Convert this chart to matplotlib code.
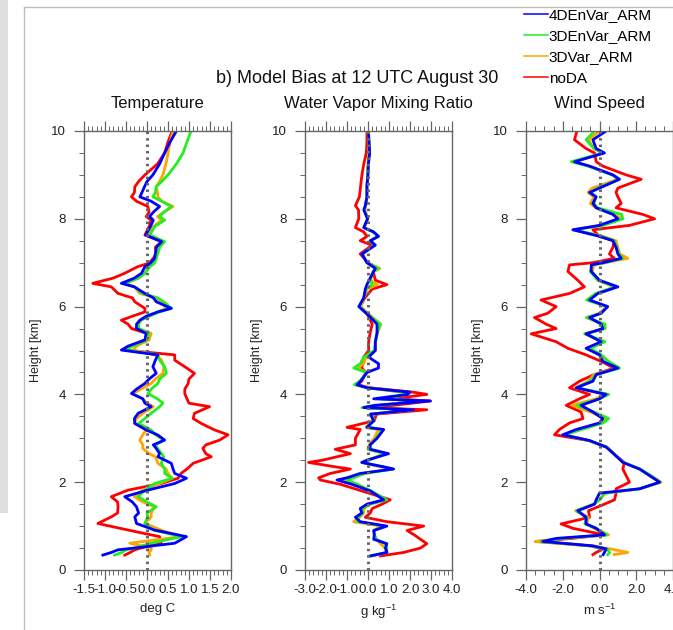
import matplotlib
matplotlib.use("Agg")
import matplotlib.pyplot as plt
from matplotlib.lines import Line2D
from matplotlib.patches import Rectangle
from matplotlib.ticker import MultipleLocator, FormatStrFormatter

plt.rcParams["font.family"] = ["Liberation Sans", "DejaVu Sans"]
plt.rcParams["mathtext.default"] = "regular"
plt.rcParams["axes.unicode_minus"] = False

W, H = 673, 630

run_labels = ["4DEnVar_ARM", "3DEnVar_ARM", "3DVar_ARM", "noDA"]
run_colors = {"4DEnVar_ARM": "#0000ff", "3DEnVar_ARM": "#22ee22",
              "3DVar_ARM": "#ffa500", "noDA": "#ff0000"}

# temperature bias profiles (deg C)
temp_height = [10.0, 9.75, 9.5, 9.25, 9.0, 8.85, 8.73, 8.6, 8.5, 8.4, 8.28, 8.15, 8.05, 7.97,
               7.82, 7.63, 7.48, 7.35, 7.21, 7.1, 6.99, 6.91, 6.76, 6.65, 6.53, 6.45, 6.3, 6.2,
               6.11, 5.96, 5.88, 5.78, 5.69, 5.6, 5.5, 5.39, 5.24, 5.1, 5.01, 4.9, 4.78, 4.63,
               4.48, 4.35, 4.25, 4.12, 4.02, 3.9, 3.8, 3.72, 3.57, 3.45, 3.34, 3.19, 3.08, 2.96,
               2.85, 2.77, 2.65, 2.58, 2.43, 2.3, 2.2, 2.09, 1.97, 1.82, 1.67, 1.55, 1.44, 1.3,
               1.21, 1.06, 0.91, 0.76, 0.61, 0.5, 0.46, 0.4, 0.34]
temp_noda = [0.60, 0.50, 0.42, 0.25, -0.05, -0.20, -0.29, -0.30, -0.37, -0.25, 0.02, 0.05, -0.02, 0.10,
             0.05, -0.05, 0.35, 0.20, 0.22, 0.15, 0.05, -0.22, -0.53, -0.80, -1.29, -0.85, -0.69, -0.35,
             -0.29, -0.05, -0.05, -0.35, -0.61, -0.45, -0.37, 0.00, -0.05, -0.40, -0.53, 0.66, 0.66, 0.90,
             1.13, 1.00, 0.98, 0.90, 0.90, 0.95, 1.00, 1.49, 1.13, 1.10, 1.29, 1.61, 1.93, 1.73,
             1.40, 1.33, 1.40, 1.53, 1.10, 0.95, 0.81, 0.74, 0.34, -0.45, -0.85, -0.70, -0.69, -0.70,
             -0.85, -1.17, -0.45, 0.30, 0.34, -0.15, -0.29, -0.40, -0.53]
temp_3dvar = [0.62, 0.55, 0.50, 0.45, 0.38, 0.30, 0.22, 0.25, 0.26, 0.35, 0.62, 0.40, 0.25, 0.35,
              0.15, 0.05, 0.36, 0.25, 0.22, 0.20, 0.15, 0.05, -0.05, -0.20, -0.50, -0.30, -0.17, 0.20,
              0.34, 0.46, 0.25, 0.05, -0.15, -0.20, -0.20, 0.10, 0.05, -0.25, -0.33, 0.20, 0.35, 0.40,
              0.38, 0.20, 0.10, -0.15, -0.33, -0.10, 0.00, 0.15, -0.10, -0.25, -0.30, -0.02, -0.10, -0.17,
              -0.10, -0.10, 0.05, 0.20, 0.26, 0.45, 0.50, 0.60, 0.30, -0.10, -0.30, -0.10, 0.18, 0.10,
              0.10, -0.05, 0.34, 0.80, -0.41, 0.10, 0.10, 0.05, 0.06]
temp_3denvar = [1.05, 0.95, 0.86, 0.70, 0.50, 0.35, 0.22, 0.20, 0.14, 0.35, 0.58, 0.40, 0.30, 0.42,
                0.18, 0.07, 0.42, 0.30, 0.26, 0.22, 0.18, 0.07, -0.05, -0.20, -0.55, -0.30, -0.12, 0.25,
                0.40, 0.58, 0.30, 0.05, -0.15, -0.20, -0.20, 0.05, 0.00, -0.35, -0.50, 0.26, 0.30, 0.42,
                0.46, 0.30, 0.26, 0.10, 0.02, 0.25, 0.38, 0.30, 0.10, -0.05, -0.20, 0.10, 0.20, 0.40,
                0.20, 0.25, 0.35, 0.40, 0.34, 0.42, 0.42, 0.60, 0.18, -0.05, -0.21, 0.00, 0.22, 0.00,
                0.02, -0.05, 0.15, 0.82, 0.10, -0.30, -0.50, -0.60, -0.77]
temp_4denvar = [0.70, 0.55, 0.42, 0.30, 0.14, 0.00, -0.06, -0.12, -0.17, 0.10, 0.30, 0.15, 0.06, 0.15,
                0.08, -0.03, 0.35, 0.22, 0.20, 0.18, 0.08, -0.05, -0.13, -0.30, -0.61, -0.30, -0.05, 0.15,
                0.22, 0.58, 0.26, -0.02, -0.17, -0.25, -0.25, -0.02, -0.05, -0.45, -0.61, 0.26, 0.20, 0.14,
                0.22, 0.05, -0.05, -0.25, -0.37, -0.10, -0.05, 0.10, -0.21, -0.30, -0.29, -0.02, 0.25, 0.42,
                0.15, 0.22, 0.30, 0.26, 0.58, 0.62, 0.66, 0.94, 0.66, 0.02, -0.53, -0.35, -0.25, -0.20,
                -0.29, -0.25, 0.18, 0.94, 0.66, -0.30, -0.69, -0.85, -1.05]

# water vapor mixing ratio bias profiles (g/kg)
qv_height = [10.0, 9.75, 9.5, 9.25, 9.0, 8.75, 8.5, 8.3, 8.2, 8.0, 7.8, 7.7, 7.6, 7.5, 7.4, 7.2,
             7.0, 6.87, 6.8, 6.6, 6.5, 6.4, 6.2, 6.0, 5.8, 5.6, 5.4, 5.2, 5.0, 4.85, 4.7, 4.6,
             4.5, 4.3, 4.22, 4.15, 4.05, 4.0, 3.9, 3.85, 3.75, 3.7, 3.65, 3.55, 3.4, 3.25, 3.2, 3.0,
             2.85, 2.75, 2.65, 2.5, 2.45, 2.35, 2.3, 2.2, 2.1, 2.05, 1.95, 1.8, 1.6, 1.5, 1.4, 1.3,
             1.2, 1.1, 1.0, 0.9, 0.8, 0.7, 0.6, 0.5, 0.4, 0.32]
qv_noda = [-0.05, -0.05, -0.08, -0.20, -0.29, -0.35, -0.41, -0.60, -0.45, -0.44, -0.60, -0.20, -0.05, -0.37, 0.19, -0.37,
           0.00, 0.50, 0.25, 0.35, 0.90, 0.20, -0.15, -0.37, 0.00, 0.20, 0.10, 0.03, 0.03, -0.20, -0.25, -0.30,
           -0.10, -0.30, -0.50, 0.11, 2.17, 2.80, 1.20, 2.97, 1.20, -0.10, 2.80, 0.40, 0.30, -1.00, -0.37, -0.60,
           -0.60, -1.56, -0.84, -2.19, -2.83, -1.56, -0.84, -1.79, -2.35, -2.27, -1.30, -0.29, 1.06, 0.67, 0.20, 0.11,
           -0.13, 0.90, 2.65, 1.86, 2.20, 2.50, 2.80, 2.50, 1.70, 0.59]
qv_3dvar = [0.00, 0.05, 0.05, 0.00, -0.02, -0.05, -0.05, -0.10, -0.15, 0.00, -0.20, 0.25, 0.45, 0.10, 0.30, -0.25,
            -0.05, 0.56, 0.25, 0.10, 0.45, -0.05, -0.20, -0.35, 0.10, 0.60, 0.45, 0.35, 0.35, -0.10, -0.20, -0.52,
            -0.05, -0.37, -0.60, 0.00, 1.60, 1.90, 0.60, 2.50, 0.50, -0.20, 2.00, 0.20, 0.20, -0.10, 0.50, 0.30,
            0.05, 0.00, 0.80, 0.00, -0.30, 0.60, 1.10, -0.20, -0.80, -1.20, -0.50, 0.10, 0.80, 0.10, -0.20, -0.20,
            -0.40, -0.68, 0.60, 0.30, 0.30, 0.40, 0.59, 0.80, 0.90, 0.20]
qv_3denvar = [0.00, 0.05, 0.05, 0.00, -0.02, -0.05, -0.06, -0.12, -0.18, -0.02, -0.20, 0.25, 0.50, 0.10, 0.30, -0.27,
              -0.05, 0.50, 0.25, 0.10, 0.20, -0.10, -0.20, -0.40, 0.05, 0.59, 0.43, 0.35, 0.30, -0.20, -0.37, -0.68,
              -0.05, -0.40, -0.65, 0.00, 1.70, 1.90, 0.60, 2.60, 0.40, -0.29, 2.10, 0.15, 0.30, -0.05, 0.70, 0.40,
              0.10, 0.00, 0.85, -0.05, -0.30, 0.70, 1.20, -0.15, -0.70, -1.00, -0.50, 0.15, 0.90, 0.10, -0.30, -0.25,
              -0.44, -0.50, 0.80, 0.30, 0.30, 0.40, 0.80, 0.90, 0.90, 0.10]
qv_4denvar = [0.02, 0.05, 0.08, 0.02, 0.00, -0.05, -0.05, -0.13, -0.20, -0.02, -0.20, 0.27, 0.50, 0.11, 0.35, -0.29,
              -0.05, 0.35, 0.27, 0.05, -0.05, -0.13, -0.20, -0.44, 0.03, 0.43, 0.43, 0.35, 0.35, 0.03, 0.50, 0.50,
              -0.05, -0.35, -0.52, -0.05, 2.00, 1.90, 0.27, 2.97, 0.30, -0.20, 2.17, 0.11, 0.27, -0.05, 0.75, 0.43,
              0.10, 0.11, 0.98, -0.05, -0.29, 0.75, 1.22, -0.37, -1.00, -1.48, -0.76, 0.11, 0.75, -0.05, -0.37, -0.29,
              -0.60, -0.37, 0.90, 0.27, 0.30, 0.27, 0.90, 0.83, 0.90, 0.11]

# wind speed bias profiles (m/s)
ws_height = [10.0, 9.8, 9.6, 9.5, 9.3, 9.2, 9.0, 8.9, 8.7, 8.6, 8.5, 8.35, 8.25, 8.1, 8.0, 7.85,
             7.75, 7.6, 7.5, 7.35, 7.2, 7.1, 7.0, 6.95, 6.8, 6.6, 6.45, 6.3, 6.15, 6.0, 5.85, 5.75,
             5.6, 5.5, 5.38, 5.2, 5.05, 4.9, 4.75, 4.6, 4.45, 4.3, 4.15, 4.0, 3.9, 3.75, 3.6, 3.45,
             3.35, 3.2, 3.08, 2.95, 2.8, 2.6, 2.45, 2.3, 2.15, 2.0, 1.85, 1.75, 1.6, 1.5, 1.35, 1.2,
             1.05, 0.95, 0.8, 0.72, 0.65, 0.55, 0.48, 0.4, 0.35]
ws_noda = [-1.23, -1.36, -0.73, -0.27, -0.18, 0.18, 1.45, 2.27, 1.00, 0.90, 1.00, 1.18, 0.90, 2.36, 3.00, 1.63,
           -0.36, 0.00, 0.80, 0.73, 0.54, 0.80, -0.36, -1.63, -1.72, -1.18, -0.82, -1.63, -3.18, -2.36, -2.81, -3.54,
           -2.90, -2.36, -3.72, -2.36, -1.72, -0.73, 0.10, 0.80, -0.30, -1.09, -1.63, -0.54, -1.09, -1.81, -1.00, -0.90,
           -1.63, -2.18, -2.45, -0.60, 0.40, 0.90, 1.36, 1.27, 1.45, 1.63, 0.90, 0.90, 0.82, 0.27, -0.60, -0.54,
           -2.09, -1.45, 0.27, -1.50, -3.45, -0.50, 0.20, -0.18, -0.36]
ws_3dvar = [0.00, -0.60, -0.30, 0.20, -1.40, -0.60, 0.70, 1.00, -0.40, -0.63, -0.30, -0.50, -0.20, 0.80, 1.20, 0.10,
            -1.40, 0.20, 0.90, 1.00, 1.10, 1.54, 0.30, -0.30, -0.40, -0.10, 0.80, -0.10, -0.60, 0.40, 0.00, -0.70,
            0.20, 0.30, -0.80, 0.10, -0.60, 0.00, 0.30, 1.00, -0.30, -0.60, -1.30, 0.30, -0.20, -1.50, -0.50, 0.30,
            0.10, -1.00, -1.90, -0.60, 0.40, 0.90, 1.30, 2.20, 2.80, 3.35, 2.20, 0.30, 0.00, -0.30, -1.30, -0.60,
            -0.70, -0.30, 0.50, -2.00, -3.50, -0.40, 0.60, 1.54, 0.80]
ws_3denvar = [-0.27, -0.73, -0.30, 0.20, -1.54, -0.60, 0.70, 1.05, -0.10, -0.50, -0.20, -0.30, -0.10, 1.20, 1.27, 0.20,
              -1.40, 0.10, 0.80, 0.95, 1.05, 1.27, 0.30, -0.40, -0.50, -0.10, 0.90, -0.20, -0.70, 0.40, 0.10, -0.70,
              0.30, 0.30, -0.80, 0.30, -0.50, 0.10, 0.50, 1.10, -0.20, -0.50, -1.20, 0.50, 0.00, -1.20, -0.30, 0.50,
              0.20, -1.00, -1.90, -0.60, 0.40, 0.90, 1.30, 2.20, 2.80, 3.30, 2.20, 0.30, 0.00, -0.30, -1.27, -0.70,
              -0.80, -0.20, 0.40, -2.00, -3.20, -0.50, 0.40, 0.55, 0.45]
ws_4denvar = [0.36, -0.36, -0.18, 0.27, -1.36, -0.54, 0.73, 1.09, 0.00, -0.54, -0.18, -0.36, -0.18, 0.73, 1.00, 0.00,
              -1.45, 0.00, 0.73, 0.90, 1.00, 1.18, 0.18, -0.45, -0.45, 0.00, 1.00, -0.09, -0.54, 0.45, 0.09, -0.54,
              0.09, 0.18, -0.73, 0.09, -0.73, 0.00, 0.18, 1.00, -0.18, -0.36, -1.27, 0.36, 0.00, -1.00, -0.36, 0.18,
              0.00, -1.27, -2.00, -0.54, 0.36, 0.90, 1.27, 2.18, 2.72, 3.27, 2.18, 0.00, -0.18, -0.27, -1.18, -0.73,
              -0.73, -0.18, 0.27, -2.36, -3.09, -0.36, 0.36, 0.27, 0.20]

panel_titles = ["Temperature", "Water Vapor Mixing Ratio", "Wind Speed"]
panel_xlabels = ["deg C", "g kg$^{-1}$", "m s$^{-1}$"]
panel_xlims = [(-1.5, 2.0), (-3.0, 4.0), (-4.0, 4.0)]
panel_major = [0.5, 1.0, 2.0]
panel_minor = [0.1, 0.2, 0.5]
panel_left_px = [84, 305, 526]

panels = [
    (temp_height, {"4DEnVar_ARM": temp_4denvar, "3DEnVar_ARM": temp_3denvar,
                   "3DVar_ARM": temp_3dvar, "noDA": temp_noda}),
    (qv_height, {"4DEnVar_ARM": qv_4denvar, "3DEnVar_ARM": qv_3denvar,
                 "3DVar_ARM": qv_3dvar, "noDA": qv_noda}),
    (ws_height, {"4DEnVar_ARM": ws_4denvar, "3DEnVar_ARM": ws_3denvar,
                 "3DVar_ARM": ws_3dvar, "noDA": ws_noda}),
]

axis_color = "#666666"

fig = plt.figure(figsize=(W / 100, H / 100), dpi=100)
fig.patch.set_facecolor("white")

# screenshot frame: grey strip on the left and a thin border
fig.add_artist(Rectangle((0, 1 - 513 / H), 8 / W, 513 / H, transform=fig.transFigure,
                         facecolor="#dedede", edgecolor="none"))
fig.add_artist(Line2D([24 / W, 24 / W], [0, 1 - 7 / H], transform=fig.transFigure,
                      color="#bdbdbd", lw=1.0))
fig.add_artist(Line2D([24 / W, 1], [1 - 7 / H, 1 - 7 / H], transform=fig.transFigure,
                      color="#bdbdbd", lw=1.0))

for i, (heights, series) in enumerate(panels):
    ax = fig.add_axes([panel_left_px[i] / W, 60 / H, 147 / W, 439 / H])
    # noDA first so the assimilation runs sit on top, 4DEnVar last
    for name in ["noDA", "3DVar_ARM", "3DEnVar_ARM", "4DEnVar_ARM"]:
        ax.plot(series[name], heights, color=run_colors[name], lw=2.0, solid_joinstyle="round")
    ax.plot([0, 0], [0, 10], color="#666666", lw=2.2, linestyle=(0, (0.8, 1.3)))

    ax.set_xlim(*panel_xlims[i])
    ax.set_ylim(0, 10)
    ax.xaxis.set_major_locator(MultipleLocator(panel_major[i]))
    ax.xaxis.set_minor_locator(MultipleLocator(panel_minor[i]))
    ax.xaxis.set_major_formatter(FormatStrFormatter("%.1f"))
    ax.yaxis.set_major_locator(MultipleLocator(2))
    ax.yaxis.set_minor_locator(MultipleLocator(0.5))
    ax.tick_params(axis="x", which="both", direction="out", top=True, bottom=True,
                   colors=axis_color, labelcolor="#222222", labelsize=9.5, pad=3)
    ax.tick_params(axis="y", which="both", direction="out", left=True, right=False,
                   colors=axis_color, labelcolor="#222222", labelsize=9.5, pad=6)
    ax.tick_params(which="major", length=7, width=0.9)
    ax.tick_params(which="minor", length=3.5, width=0.7)
    for sp in ax.spines.values():
        sp.set_color(axis_color)
        sp.set_linewidth(1.0)

    ax.set_ylabel("Height [km]", fontsize=9, color="#222222")
    ax.yaxis.set_label_coords(-42 / 147, 0.5)
    ax.set_xlabel(panel_xlabels[i], fontsize=9.5, color="#222222")
    ax.xaxis.set_label_coords(0.5, -33 / 439)
    ax.text(0.5, 1 + 23 / 439, panel_titles[i], transform=ax.transAxes,
            ha="center", va="baseline", fontsize=12, color="#111111")

fig.text(357 / W, 1 - 83 / H, "b) Model Bias at 12 UTC August 30",
         ha="center", va="baseline", fontsize=13, color="#111111")

handles = [Line2D([], [], color=run_colors[n], lw=1.1) for n in run_labels]
fig.legend(handles, run_labels, loc="upper left", bbox_to_anchor=(524 / W, 1 - 8 / H),
           frameon=False, fontsize=11, handlelength=1.57, handletextpad=0.05,
           labelspacing=0.47, borderpad=0, borderaxespad=0)

fig.savefig("out.png", dpi=100)
